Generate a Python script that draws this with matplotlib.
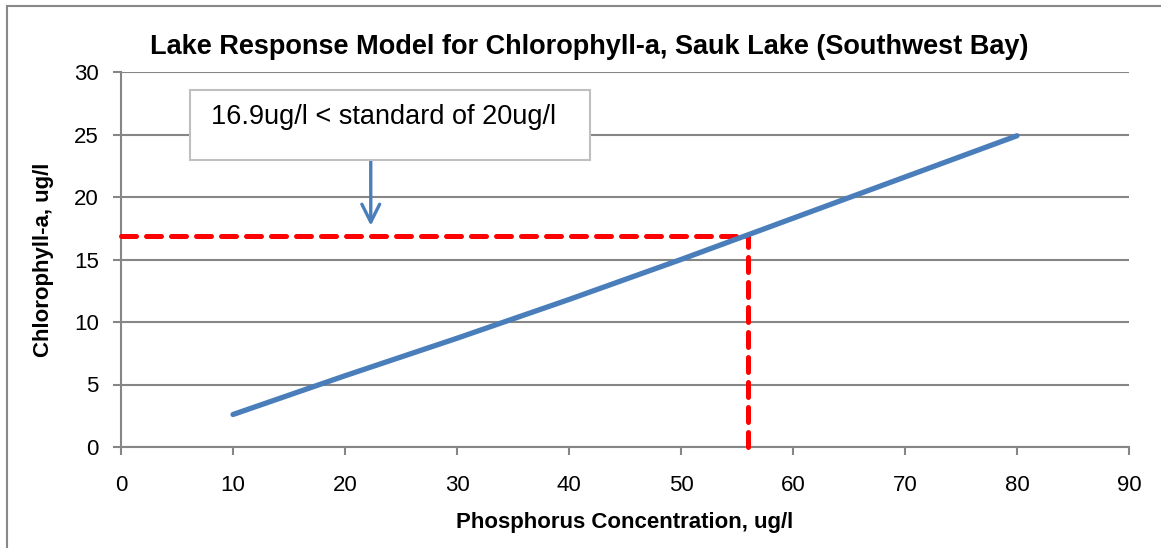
import matplotlib
matplotlib.use("Agg")
import matplotlib.pyplot as plt
from matplotlib.patches import Rectangle

# Lake response model curve
phosphorus = [10, 20, 30, 40, 50, 60, 70, 80]
chlorophyll = [2.6, 5.7, 8.7, 11.8, 15.0, 18.3, 21.6, 24.9]

# target point and standard
target_p = 56
target_chl = 16.9
note_text = "16.9ug/l < standard of 20ug/l"

x_ticks = list(range(0, 91, 10))
y_ticks = list(range(0, 31, 5))

plt.rcParams['font.family'] = ['Liberation Sans', 'DejaVu Sans']

fig = plt.figure(figsize=(11.61, 5.48), dpi=100)
ax = fig.add_axes([121 / 1161, 101 / 548, 1008 / 1161, 375 / 548])

grid_col = '#868686'
ax.set_xlim(0, 90)
ax.set_ylim(0, 30)
ax.set_xticks(x_ticks)
ax.set_yticks(y_ticks)
ax.yaxis.grid(True, color=grid_col, linewidth=1.5)
ax.set_axisbelow(True)
for s in ['top', 'right']:
    ax.spines[s].set_visible(False)
for s in ['left', 'bottom']:
    ax.spines[s].set_color(grid_col)
    ax.spines[s].set_linewidth(1.5)
ax.tick_params(axis='both', colors=grid_col, width=1.5, length=6, direction='out',
               labelcolor='black', labelsize=16)
ax.tick_params(axis='x', pad=14)
ax.tick_params(axis='y', pad=10)

# red dashed guide lines
ax.plot([0, target_p], [target_chl, target_chl], color='#ff0000', linewidth=3.6,
        linestyle=(0, (3, 2)), dash_capstyle='round', zorder=3, clip_on=False)
ax.plot([target_p, target_p], [0, target_chl], color='#ff0000', linewidth=3.6,
        linestyle=(0, (3, 2)), dash_capstyle='round', zorder=3, clip_on=False)

# model line
ax.plot(phosphorus, chlorophyll, color='#4a7ebb', linewidth=3.8,
        solid_capstyle='round', zorder=4)

# annotation box and arrow
ax.annotate('', xy=(22.3, 17.7), xytext=(22.3, 22.9),
            arrowprops=dict(arrowstyle='->', color='#4a7ebb', lw=2.4,
                            mutation_scale=32, shrinkA=0, shrinkB=0), zorder=5)
box = Rectangle((6.2, 23.0), 35.7, 5.6, facecolor='white', edgecolor='#bfbfbf',
                linewidth=1.5, zorder=5)
ax.add_patch(box)
ax.text(8.0, 26.4, note_text, fontsize=19.5, va='center', ha='left', zorder=6)

# title is centred on the whole chart area, not on the plot
fig.text(589 / 1161, 1 - 47 / 548,
         'Lake Response Model for Chlorophyll-a, Sauk Lake (Southwest Bay)',
         fontsize=19.5, fontweight='bold', ha='center', va='center')
ax.set_xlabel('Phosphorus Concentration, ug/l', fontsize=16, fontweight='bold', labelpad=12)
ax.set_ylabel('Chlorophyll-a, ug/l', fontsize=16, fontweight='bold', labelpad=14)

# chart frame (only left/top edges visible in the crop)
fig.add_artist(Rectangle((7 / 1161, -0.1), 1.2, (548 - 6) / 548 + 0.1,
                         transform=fig.transFigure, facecolor='none',
                         edgecolor='#888888', linewidth=1.5))

fig.savefig('out.png', dpi=100)
